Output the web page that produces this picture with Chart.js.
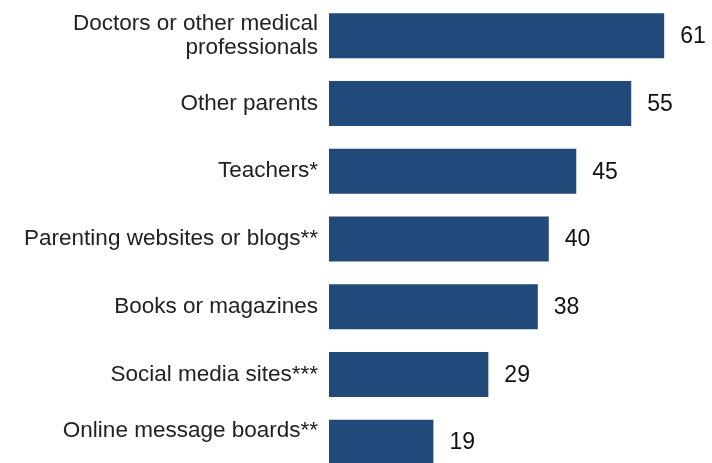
<!DOCTYPE html>
<html>
<head>
<meta charset="utf-8">
<script src="https://cdn.jsdelivr.net/npm/chart.js@4"></script>
<style>
  html, body { margin: 0; padding: 0; background: #fff; overflow: hidden; }
  #wrap { width: 712px; height: 476px; position: relative; }
</style>
</head>
<body>
<div id="wrap"><canvas id="sourcesChart"></canvas></div>
<script>
// Categories and values
const categories = [
  ['Doctors or other medical', 'professionals'],
  'Other parents',
  'Teachers*',
  'Parenting websites or blogs**',
  'Books or magazines',
  'Social media sites***',
  ['Online message boards**', ''] // blank line lifts the label like the original
]
const percentValues = [61, 55, 45, 40, 38, 29, 19]

const barColor = '#214a7b'
const labelFont = { family: 'Liberation Sans, Arial', size: 22.5, lineHeight: 1.05 }

// Draw the value at the end of each bar
const valueLabels = {
  id: 'valueLabels',
  afterDatasetsDraw(chart) {
    const ctx = chart.ctx
    const meta = chart.getDatasetMeta(0)
    ctx.save()
    ctx.font = '23px Liberation Sans, Arial'
    ctx.fillStyle = '#111'
    ctx.textAlign = 'left'
    ctx.textBaseline = 'middle'
    meta.data.forEach((bar, i) => {
      ctx.fillText(percentValues[i], bar.x + 16, bar.y + 1)
    })
    ctx.restore()
  },
}

const ctx = document.getElementById('sourcesChart').getContext('2d')
new Chart(ctx, {
  type: 'bar',
  data: {
    labels: categories,
    datasets: [
      {
        data: percentValues,
        backgroundColor: barColor,
        borderWidth: 0,
        categoryPercentage: 1,
        barPercentage: 0.665,
      },
    ],
  },
  options: {
    indexAxis: 'y',
    responsive: true,
    maintainAspectRatio: false,
    animation: false,
    layout: { padding: { top: 2, right: 0, bottom: 0, left: 0 } },
    plugins: {
      legend: { display: false },
      tooltip: { enabled: false },
    },
    scales: {
      x: {
        display: false,
        min: 0,
        max: 69.7,
      },
      y: {
        grid: { display: false },
        border: { display: false },
        ticks: {
          color: '#222',
          font: labelFont,
          padding: 3,
        },
        afterFit(scale) {
          scale.width = 329
          scale.paddingTop = 0
          scale.paddingBottom = 0
        },
      },
    },
  },
  plugins: [valueLabels],
})
</script>
</body>
</html>
